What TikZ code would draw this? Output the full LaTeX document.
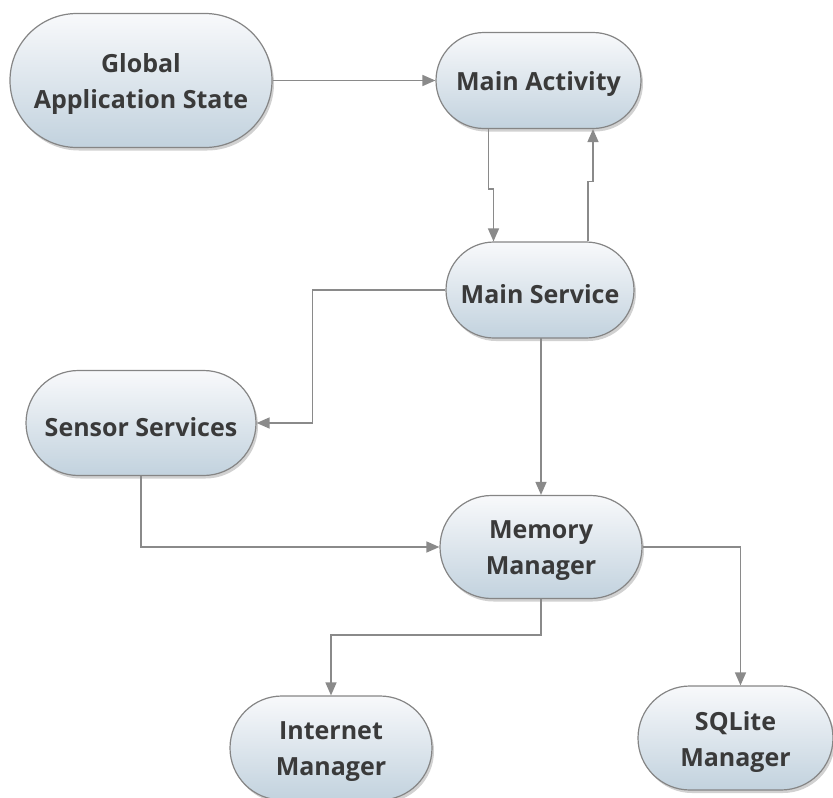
\documentclass[tikz,border=0pt]{standalone}
\usepackage{fontspec}
\setmainfont{Open Sans}
\usetikzlibrary{shapes.misc,arrows.meta,shadows,calc}
\definecolor{txt}{HTML}{3A3A3A}
\definecolor{edge}{HTML}{858585}
\definecolor{conn}{HTML}{8A8A8A}
\definecolor{topc}{HTML}{F8F9FB}
\definecolor{botc}{HTML}{C2D2DE}
\tikzset{
  pill/.style={rounded rectangle, draw=edge, line width=1.2pt,
    top color=topc, bottom color=botc,
    drop shadow={shadow xshift=2pt, shadow yshift=-3pt, opacity=0.3, fill=black!60},
    inner sep=0pt},
  lbl/.style={font=\fontsize{25}{36}\selectfont\bfseries, text=txt, align=center,
    inner sep=0pt, yshift=-4pt},
  link/.style={draw=conn, line width=1.5pt, -{Triangle[length=13pt,width=11pt]}},
}
\begin{document}
\begin{tikzpicture}[x=1pt,y=-1pt]
\useasboundingbox (0,0) rectangle (833,798);
\node[pill, minimum width=262pt, minimum height=134pt, label={[lbl]center:Global\\Application State}] (gas) at (141,80.5) {};
\node[pill, minimum width=205pt, minimum height=96pt, label={[lbl]center:Main Activity}] (ma) at (538.5,80.5) {};
\node[pill, minimum width=188pt, minimum height=96pt, label={[lbl]center:Main Service}] (ms) at (540,290) {};
\node[pill, minimum width=230pt, minimum height=105pt, label={[lbl]center:Sensor Services}] (ss) at (141,423) {};
\node[pill, minimum width=202pt, minimum height=103pt, label={[lbl]center:Memory\\Manager}] (mm) at (541,547) {};
\node[pill, minimum width=202pt, minimum height=104pt, label={[lbl]center:Internet\\Manager}] (in) at (331,748) {};
\node[pill, minimum width=195pt, minimum height=104pt, label={[lbl]center:SQLite\\Manager}] (sq) at (735.5,738) {};

\draw[link] (gas.east) -- (ma.west);
\draw[link] ([xshift=-50pt]ma.south) -- ++(0,60) -- ++(5,0) coordinate (j1) -- (j1 |- ms.north);
\draw[link] ([xshift=48pt]ms.north) -- ++(0,-60) -- ++(5,0) coordinate (j2) -- (j2 |- ma.south);
\draw[link] (ms.west) -- ++(-133,0) |- (ss.east);
\draw[link] (ms.south) -- (ms.south -| mm.north) -- (mm.north);
\draw[link] (ss.south) |- (mm.west);
\draw[link] (mm.east) -| ([xshift=5pt]sq.north);
\draw[link] (mm.south) -- ++(0,36) -| (in.north);
\end{tikzpicture}
\end{document}
